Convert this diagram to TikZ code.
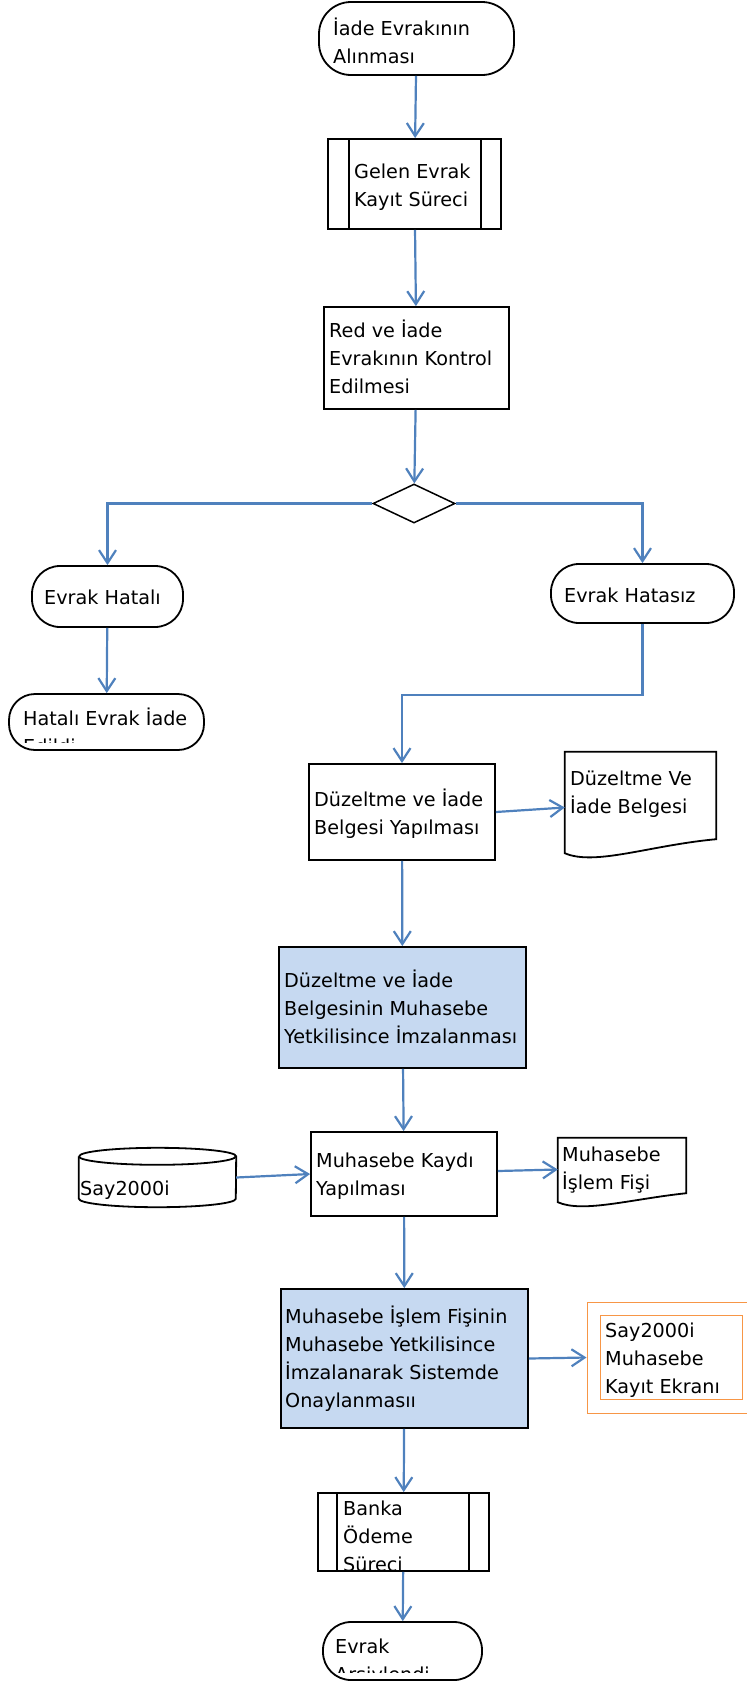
\documentclass[tikz,border=0pt]{standalone}
\usepackage{fontspec}
\setmainfont{DejaVu Sans}
\usepackage{tikz}
\usetikzlibrary{arrows.meta,positioning,shapes}

\definecolor{linkblue}{HTML}{4F81BD}
\definecolor{signfill}{HTML}{C6D9F1}
\definecolor{screenorange}{HTML}{F79646}

\begin{document}
\begin{tikzpicture}[
  x=1pt, y=-1pt,
  >={Straight Barb[length=13pt,width=17pt]},
  box/.style={draw=black, line width=1.8pt, rectangle, inner sep=0pt},
  ghost/.style={rectangle, inner sep=0pt},
  term/.style={box, rounded corners=28pt},
  signbox/.style={box, fill=signfill},
  decision/.style={draw=black, line width=1.5pt, diamond, inner sep=0pt},
  txt/.style={anchor=base west, align=left, inner sep=0pt, font=\fontsize{19.2}{28.3}\selectfont},
  wire/.style={->, draw=linkblue, line width=2.2pt}
]
\useasboundingbox (0,0) rectangle (747,1682);
\clip (0,0) rectangle (747,1682);

% Start (text placed at baseline of its last line)
\node[term, rounded corners=32pt, minimum width=195pt, minimum height=73pt] (start) at (416.5,38.5) {};
\node[txt] (start_t) at (333,63.3) {İade Evrakının\\Alınması};

% Gelen evrak (alt surec)
\node[box, minimum width=173pt, minimum height=90pt] (gelen) at (414.5,184) {};
\draw[box] ([xshift=22pt]gelen.north west) -- ([xshift=22pt]gelen.south west);
\draw[box] ([xshift=-21pt]gelen.north east) -- ([xshift=-21pt]gelen.south east);
\node[txt] (gelen_t) at (354,206.3) {Gelen Evrak\\Kayıt Süreci};

% Kontrol
\node[box, minimum width=185pt, minimum height=102pt] (kontrol) at (416.5,358) {};
\node[txt] (kontrol_t) at (329,393.6) {Red ve İade\\Evrakının Kontrol\\Edilmesi};

% Karar
\node[decision, minimum width=82pt, minimum height=39pt] (karar) at (414,503.5) {};

% Hatali kol
\node[term, minimum width=151pt, minimum height=61pt] (hatali) at (107.5,596.5) {};
\node[txt] (hatali_t) at (44,604) {Evrak Hatalı};
\node[term, rounded corners=26pt, minimum width=195pt, minimum height=56pt] (iade) at (106.5,722) {};
\begin{scope}
  \clip (0,694) rectangle (747,742);
  \node[txt] (iade_t) at (23,753.3) {Hatalı Evrak İade\\Edildi};
\end{scope}

% Hatasiz kol
\node[term, minimum width=183pt, minimum height=59pt] (hatasiz) at (642.5,593.5) {};
\node[txt] (hatasiz_t) at (564,602) {Evrak Hatasız};

% Duzeltme
\node[box, minimum width=186pt, minimum height=96pt] (duzelt) at (402,812) {};
\node[txt] (duzelt_t) at (314,834.3) {Düzeltme ve İade\\Belgesi Yapılması};
\node[ghost, minimum width=151pt, minimum height=87pt] (belge) at (640.5,795.5) {};
\draw[box] (belge.north west) -- (belge.north east) -- (belge.south east)
  .. controls +(-66,6) and +(30,13) .. ([yshift=-14pt]belge.south west) -- cycle;
\node[txt] (belge_t) at (570,813.3) {Düzeltme Ve\\İade Belgesi};

% Imza
\node[signbox, minimum width=247pt, minimum height=121pt] (imza) at (402.5,1007.5) {};
\node[txt] (imza_t) at (284,1043.6) {Düzeltme ve İade\\Belgesinin Muhasebe\\Yetkilisince İmzalanması};

% Muhasebe kaydi
\node[box, minimum width=186pt, minimum height=84pt] (kaydi) at (404,1174) {};
\node[txt] (kaydi_t) at (316,1195.3) {Muhasebe Kaydı\\Yapılması};
\node[ghost, minimum width=157pt, minimum height=59pt] (say) at (157.5,1177.5) {};
\draw[box] ([yshift=-8.5pt]say.north west) -- ([yshift=8.5pt]say.south west)
  arc[start angle=180, end angle=360, x radius=78.5pt, y radius=8.5pt]
  -- ([yshift=-8.5pt]say.north east)
  arc[start angle=0, end angle=180, x radius=78.5pt, y radius=8.5pt];
\draw[box] ([yshift=-8.5pt]say.north west)
  arc[start angle=180, end angle=360, x radius=78.5pt, y radius=8.5pt];
\node[txt] (say_t) at (80,1195) {Say2000i};
\node[ghost, minimum width=128pt, minimum height=55pt] (fis) at (622,1165.5) {};
\draw[box] (fis.north west) -- (fis.north east) -- (fis.south east)
  .. controls +(-56,6) and +(25,11) .. ([yshift=-9pt]fis.south west) -- cycle;
\node[txt] (fis_t) at (562,1189.3) {Muhasebe\\İşlem Fişi};

% Onay
\node[signbox, minimum width=247pt, minimum height=139pt] (onay) at (404.5,1358.5) {};
\node[txt] (onay_t) at (285,1407.9) {Muhasebe İşlem Fişinin\\Muhasebe Yetkilisince\\İmzalanarak Sistemde\\Onaylanmasıı};
\node[draw=screenorange, line width=1pt, rectangle, minimum width=169pt, minimum height=111pt] (ekran) at (671.5,1357.5) {};
\draw[screenorange, line width=1pt] ([shift={(14pt,-14pt)}]ekran.north west) rectangle ([shift={(-14pt,14pt)}]ekran.south east);
\node[txt] (ekran_t) at (605,1393.6) {Say2000i\\Muhasebe\\Kayıt Ekranı};

% Banka odeme (alt surec)
\node[box, minimum width=171pt, minimum height=78pt] (banka) at (403.5,1532) {};
\draw[box] ([xshift=20pt]banka.north west) -- ([xshift=20pt]banka.south west);
\draw[box] ([xshift=-21pt]banka.north east) -- ([xshift=-21pt]banka.south east);
\begin{scope}
  \clip (0,1493) rectangle (747,1570);
  \node[txt] (banka_t) at (343,1571.6) {Banka\\Ödeme\\Süreci};
\end{scope}

% Son
\node[term, minimum width=159pt, minimum height=58pt] (arsiv) at (402.5,1651) {};
\begin{scope}
  \clip (0,1622) rectangle (747,1672);
  \node[txt] (arsiv_t) at (335,1681.3) {Evrak\\Arşivlendi};
\end{scope}

% Baglantilar
\draw[wire] (start) -- (gelen);
\draw[wire] (gelen) -- (kontrol);
\draw[wire] (kontrol) -- (karar);
\draw[wire] (karar.west) -| (hatali.north);
\draw[wire] (karar.east) -| (hatasiz.north);
\draw[wire] (hatali) -- (iade);
\draw[wire] (hatasiz.south) -- ++(0,71) -| (duzelt.north);
\draw[wire] (duzelt.east) -- ([yshift=-12pt]belge.west);
\draw[wire] (duzelt) -- (imza);
\draw[wire] (imza) -- (kaydi);
\draw[wire] (say.east) -- (kaydi.west);
\draw[wire] ([yshift=3pt]kaydi.east) -- ([yshift=-4pt]fis.west);
\draw[wire] (kaydi) -- (onay);
\draw[wire] (onay.east) -- (ekran.west);
\draw[wire] (onay) -- (banka);
\draw[wire] (banka) -- (arsiv);

\end{tikzpicture}
\end{document}
